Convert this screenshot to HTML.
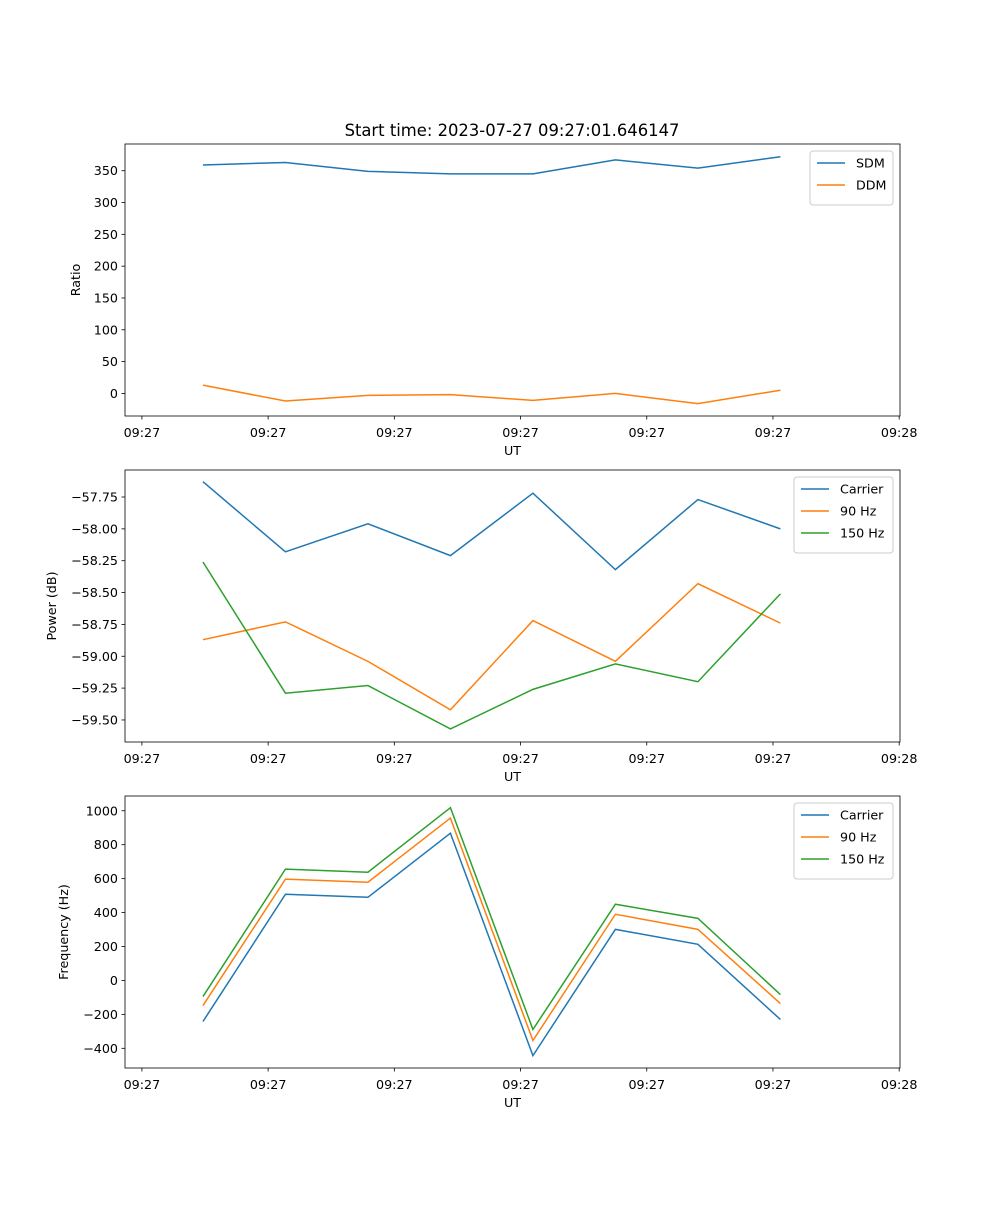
<!DOCTYPE html>
<html><head><meta charset="utf-8"><style>
body{margin:0;background:#fff}
svg text{font-family:"DejaVu Sans","Liberation Sans",sans-serif;font-size:12.7px;fill:#000}
</style></head><body>
<svg id="fig" width="1000" height="1200" xmlns="http://www.w3.org/2000/svg">
<text x="512" y="136" text-anchor="middle" style="font-size:16.4px">Start time: 2023-07-27 09:27:01.646147</text>
</svg>
<script>
const xIdx = [0,1,2,3,4,5,6,7];
const xTickVals = [-0.74,0.79,2.32,3.85,5.38,6.91,8.44];
const xTickLabels = ['09:27','09:27','09:27','09:27','09:27','09:27','09:28'];
const sdm = [359,363,349,345,345,367,354,372];
const ddm = [13,-12,-3,-2,-11,0,-16,5];
const powCarrier = [-57.63,-58.18,-57.96,-58.21,-57.72,-58.32,-57.77,-58.00];
const pow90 = [-58.87,-58.73,-59.04,-59.42,-58.72,-59.04,-58.43,-58.74];
const pow150 = [-58.26,-59.29,-59.23,-59.57,-59.26,-59.06,-59.20,-58.51];
const frqCarrier = [-242,508,490,868,-443,301,213,-230];
const frq90 = [-148,597,579,957,-354,390,301,-136];
const frq150 = [-95,656,638,1018,-289,449,366,-83];
const ratioTicks = [0,50,100,150,200,250,300,350];
const powTicks = [-59.5,-59.25,-59.0,-58.75,-58.5,-58.25,-58.0,-57.75];
const powTickLabels = ['\u221259.50','\u221259.25','\u221259.00','\u221258.75','\u221258.50','\u221258.25','\u221258.00','\u221257.75'];
const frqTicks = [-400,-200,0,200,400,600,800,1000];

const NS='http://www.w3.org/2000/svg';
const svg=document.getElementById('fig');
function mk(tag,attrs,parent){const e=document.createElementNS(NS,tag);for(const k in attrs)e.setAttribute(k,attrs[k]);(parent||svg).appendChild(e);return e;}
const L=125,R=900,xmin=-0.945,xmax=8.45;
const X=v=>L+(v-xmin)/(xmax-xmin)*(R-L);
const C=['#1f77b4','#ff7f0e','#2ca02c'];

function panel(name,top,bot,ymin,ymax,yt,ytl,ylabel,series,names,legW,ylx){
  const Y=v=>bot-(v-ymin)/(ymax-ymin)*(bot-top);
  const g=mk('g',{});
  
  
  series.forEach((s,i)=>{
    const p=mk('polyline',{points:s.map((v,j)=>X(xIdx[j])+','+Y(v)).join(' '),fill:'none',stroke:C[i],'stroke-width':1.5},g);
    
    
  });
  const fr=mk('rect',{x:L,y:top,width:R-L,height:bot-top,fill:'none',stroke:'#000','stroke-width':0.8},g);
  
  
  xTickVals.forEach((v,i)=>{
    mk('line',{x1:X(v),x2:X(v),y1:bot,y2:bot+3.5,stroke:'#000','stroke-width':0.8},g);
    const t=mk('text',{x:X(v),y:bot+21,'text-anchor':'middle'},g);t.textContent=xTickLabels[i];
    
    
  });
  const xl=mk('text',{x:(L+R)/2,y:bot+39,'text-anchor':'middle'},g);xl.textContent='UT';
  
  
  yt.forEach((v,i)=>{
    mk('line',{x1:L-3.5,x2:L,y1:Y(v),y2:Y(v),stroke:'#000','stroke-width':0.8},g);
    const t=mk('text',{x:L-7,y:Y(v)+4.5,'text-anchor':'end'},g);t.textContent=ytl[i];
    
    
  });
  const yl=mk('text',{x:0,y:0,'text-anchor':'middle',transform:`translate(${ylx},${(top+bot)/2}) rotate(-90)`},g);yl.textContent=ylabel;
  
  
  const lg=mk('g',{},g);
  
  
  const lx=R-7-legW,ly=top+7;
  mk('rect',{x:lx,y:ly,width:legW,height:10+names.length*22,fill:'#fff',stroke:'#ccc',rx:3},lg);
  names.forEach((n,i)=>{
    const yy=ly+12+i*22;
    mk('line',{x1:lx+7,x2:lx+35,y1:yy,y2:yy,stroke:C[i],'stroke-width':1.5},lg);
    const t=mk('text',{x:lx+46,y:yy+4.5},lg);t.textContent=n;
    
    
  });
}
panel('ratio-panel',144,416,-35.5,392,ratioTicks,ratioTicks.map(String),'Ratio',[sdm,ddm],['SDM','DDM'],83,80);
panel('power-panel',470,742,-59.673,-57.538,powTicks,powTickLabels,'Power (dB)',[powCarrier,pow90,pow150],['Carrier','90 Hz','150 Hz'],99,56);
panel('frequency-panel',796,1068,-516,1087,frqTicks,frqTicks.map(v=>v<0?'\u2212'+(-v):String(v)),'Frequency (Hz)',[frqCarrier,frq90,frq150],['Carrier','90 Hz','150 Hz'],99,68);
</script>
</body></html>
